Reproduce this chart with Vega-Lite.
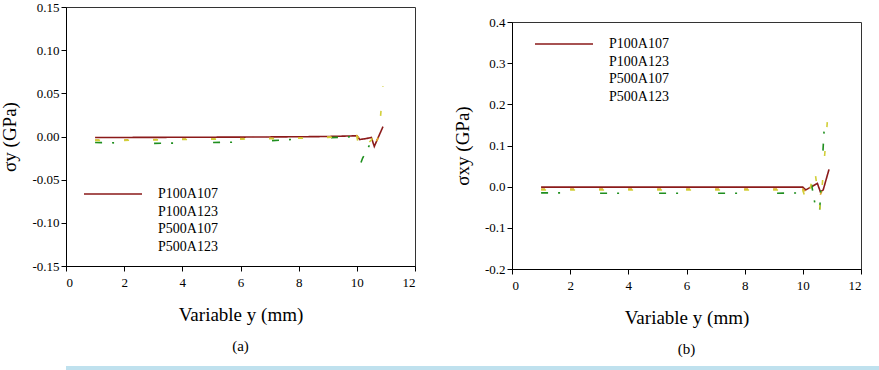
{
  "$schema": "https://vega.github.io/schema/vega-lite/v6.json",
  "padding": {"left": 0, "top": 0, "right": 0, "bottom": 0},
  "background": "white",
  "datasets": {
    "sy": [
      {"series": "P100A107", "pos": 1.0, "stress": -0.0012},
      {"series": "P100A107", "pos": 2.0, "stress": -0.0011},
      {"series": "P100A107", "pos": 3.0, "stress": -0.0010},
      {"series": "P100A107", "pos": 4.0, "stress": -0.0009},
      {"series": "P100A107", "pos": 5.0, "stress": -0.0008},
      {"series": "P100A107", "pos": 6.0, "stress": -0.0007},
      {"series": "P100A107", "pos": 7.0, "stress": -0.0005},
      {"series": "P100A107", "pos": 8.0, "stress": -0.0003},
      {"series": "P100A107", "pos": 9.0, "stress": 0.0},
      {"series": "P100A107", "pos": 10.0, "stress": 0.0008},
      {"series": "P100A107", "pos": 10.1, "stress": -0.0035},
      {"series": "P100A107", "pos": 10.3, "stress": -0.0025},
      {"series": "P100A107", "pos": 10.5, "stress": -0.0012},
      {"series": "P100A107", "pos": 10.6, "stress": -0.0115},
      {"series": "P100A107", "pos": 10.9, "stress": 0.0115},

      {"series": "P100A123", "pos": 1.0, "stress": -0.004},
      {"series": "P100A123", "pos": 2.0, "stress": -0.004},
      {"series": "P100A123", "pos": 3.0, "stress": -0.0035},
      {"series": "P100A123", "pos": 4.0, "stress": -0.003},
      {"series": "P100A123", "pos": 5.0, "stress": -0.003},
      {"series": "P100A123", "pos": 6.0, "stress": -0.0025},
      {"series": "P100A123", "pos": 7.0, "stress": -0.002},
      {"series": "P100A123", "pos": 8.0, "stress": -0.0015},
      {"series": "P100A123", "pos": 9.0, "stress": -0.0005},
      {"series": "P100A123", "pos": 10.0, "stress": 0.001},
      {"series": "P100A123", "pos": 10.1, "stress": -0.003},
      {"series": "P100A123", "pos": 10.5, "stress": -0.002},
      {"series": "P100A123", "pos": 10.6, "stress": -0.010},
      {"series": "P100A123", "pos": 10.9, "stress": 0.008},

      {"series": "P500A107", "pos": 1.0, "stress": -0.007},
      {"series": "P500A107", "pos": 2.0, "stress": -0.0075},
      {"series": "P500A107", "pos": 3.0, "stress": -0.008},
      {"series": "P500A107", "pos": 4.0, "stress": -0.0075},
      {"series": "P500A107", "pos": 5.0, "stress": -0.007},
      {"series": "P500A107", "pos": 6.0, "stress": -0.0065},
      {"series": "P500A107", "pos": 7.0, "stress": -0.005},
      {"series": "P500A107", "pos": 8.0, "stress": -0.003},
      {"series": "P500A107", "pos": 9.0, "stress": -0.0015},
      {"series": "P500A107", "pos": 10.0, "stress": 0.0},
      {"series": "P500A107", "pos": 10.1, "stress": -0.034},
      {"series": "P500A107", "pos": 10.2, "stress": -0.025},
      {"series": "P500A107", "pos": 10.5, "stress": -0.006},
      {"series": "P500A107", "pos": 10.9, "stress": 0.030},

      {"series": "P500A123", "pos": 1.0, "stress": -0.0045},
      {"series": "P500A123", "pos": 2.0, "stress": -0.0045},
      {"series": "P500A123", "pos": 3.0, "stress": -0.004},
      {"series": "P500A123", "pos": 4.0, "stress": -0.0035},
      {"series": "P500A123", "pos": 5.0, "stress": -0.003},
      {"series": "P500A123", "pos": 6.0, "stress": -0.003},
      {"series": "P500A123", "pos": 7.0, "stress": -0.0025},
      {"series": "P500A123", "pos": 8.0, "stress": -0.002},
      {"series": "P500A123", "pos": 9.0, "stress": -0.001},
      {"series": "P500A123", "pos": 10.0, "stress": 0.0},
      {"series": "P500A123", "pos": 10.1, "stress": -0.017},
      {"series": "P500A123", "pos": 10.3, "stress": -0.011},
      {"series": "P500A123", "pos": 10.5, "stress": -0.004},
      {"series": "P500A123", "pos": 10.8, "stress": 0.017},
      {"series": "P500A123", "pos": 10.9, "stress": 0.058}
    ],
    "sxy": [
      {"series": "P100A107", "pos": 1.0, "stress": -0.001},
      {"series": "P100A107", "pos": 2.0, "stress": -0.001},
      {"series": "P100A107", "pos": 3.0, "stress": -0.001},
      {"series": "P100A107", "pos": 4.0, "stress": -0.001},
      {"series": "P100A107", "pos": 5.0, "stress": -0.001},
      {"series": "P100A107", "pos": 6.0, "stress": -0.001},
      {"series": "P100A107", "pos": 7.0, "stress": -0.001},
      {"series": "P100A107", "pos": 8.0, "stress": -0.001},
      {"series": "P100A107", "pos": 9.0, "stress": -0.001},
      {"series": "P100A107", "pos": 10.0, "stress": -0.001},
      {"series": "P100A107", "pos": 10.1, "stress": -0.008},
      {"series": "P100A107", "pos": 10.5, "stress": 0.008},
      {"series": "P100A107", "pos": 10.6, "stress": -0.012},
      {"series": "P100A107", "pos": 10.7, "stress": -0.008},
      {"series": "P100A107", "pos": 10.9, "stress": 0.042},

      {"series": "P100A123", "pos": 1.0, "stress": -0.006},
      {"series": "P100A123", "pos": 2.0, "stress": -0.006},
      {"series": "P100A123", "pos": 3.0, "stress": -0.006},
      {"series": "P100A123", "pos": 4.0, "stress": -0.006},
      {"series": "P100A123", "pos": 5.0, "stress": -0.006},
      {"series": "P100A123", "pos": 6.0, "stress": -0.006},
      {"series": "P100A123", "pos": 7.0, "stress": -0.006},
      {"series": "P100A123", "pos": 8.0, "stress": -0.006},
      {"series": "P100A123", "pos": 9.0, "stress": -0.006},
      {"series": "P100A123", "pos": 10.0, "stress": -0.006},
      {"series": "P100A123", "pos": 10.1, "stress": -0.012},
      {"series": "P100A123", "pos": 10.5, "stress": 0.005},
      {"series": "P100A123", "pos": 10.6, "stress": -0.020},
      {"series": "P100A123", "pos": 10.9, "stress": 0.030},

      {"series": "P500A107", "pos": 1.0, "stress": -0.015},
      {"series": "P500A107", "pos": 2.0, "stress": -0.015},
      {"series": "P500A107", "pos": 3.0, "stress": -0.016},
      {"series": "P500A107", "pos": 4.0, "stress": -0.016},
      {"series": "P500A107", "pos": 5.0, "stress": -0.016},
      {"series": "P500A107", "pos": 6.0, "stress": -0.016},
      {"series": "P500A107", "pos": 7.0, "stress": -0.016},
      {"series": "P500A107", "pos": 8.0, "stress": -0.016},
      {"series": "P500A107", "pos": 9.0, "stress": -0.016},
      {"series": "P500A107", "pos": 10.0, "stress": -0.015},
      {"series": "P500A107", "pos": 10.15, "stress": -0.045},
      {"series": "P500A107", "pos": 10.3, "stress": 0.005},
      {"series": "P500A107", "pos": 10.55, "stress": -0.095},
      {"series": "P500A107", "pos": 10.8, "stress": 0.225},

      {"series": "P500A123", "pos": 1.0, "stress": -0.008},
      {"series": "P500A123", "pos": 2.0, "stress": -0.008},
      {"series": "P500A123", "pos": 3.0, "stress": -0.008},
      {"series": "P500A123", "pos": 4.0, "stress": -0.008},
      {"series": "P500A123", "pos": 5.0, "stress": -0.008},
      {"series": "P500A123", "pos": 6.0, "stress": -0.008},
      {"series": "P500A123", "pos": 7.0, "stress": -0.008},
      {"series": "P500A123", "pos": 8.0, "stress": -0.008},
      {"series": "P500A123", "pos": 9.0, "stress": -0.008},
      {"series": "P500A123", "pos": 10.0, "stress": -0.009},
      {"series": "P500A123", "pos": 10.15, "stress": -0.040},
      {"series": "P500A123", "pos": 10.4, "stress": 0.045},
      {"series": "P500A123", "pos": 10.6, "stress": -0.055},
      {"series": "P500A123", "pos": 10.8, "stress": 0.120},
      {"series": "P500A123", "pos": 10.9, "stress": 0.210}
    ],
    "none": []
  },
  "config": {
    "font": "Liberation Serif",
    "style": {
      "guide-label": {"font": "Liberation Serif", "fill": "black"},
      "guide-title": {"font": "Liberation Serif", "fill": "black"}
    },
    "view": {"stroke": "#333333", "strokeWidth": 1},
    "axis": {
      "grid": false,
      "domainColor": "black",
      "tickColor": "black",
      "tickSize": 5,
      "labelColor": "black",
      "labelFont": "Liberation Serif",
      "labelFontSize": 13,
      "titleColor": "black",
      "titleFont": "Liberation Serif",
      "titleFontSize": 19,
      "titleFontWeight": "normal"
    },
    "legend": {
      "orient": "none",
      "symbolType": "M-5.8,0H5.8",
      "symbolSize": 100,
      "symbolStrokeWidth": 1.6,
      "labelFont": "Liberation Serif",
      "labelFontSize": 14,
      "labelColor": "black",
      "labelOffset": 38,
      "rowPadding": 3.5
    },
    "title": {
      "font": "Liberation Serif",
      "fontSize": 15,
      "fontWeight": "normal",
      "color": "black"
    }
  },
  "spacing": 8,
  "align": "none",
  "vconcat": [
    {
      "spacing": 36,
      "resolve": {
        "scale": {"color": "independent", "strokeDash": "independent", "x": "independent", "y": "independent"},
        "legend": {"color": "independent", "strokeDash": "independent"}
      },
      "hconcat": [
        {
          "width": 349,
          "height": 259,
          "data": {"name": "sy"},
          "title": {"text": "(a)", "orient": "bottom", "offset": 15, "font": "Liberation Serif", "fontSize": 15, "fontWeight": "normal"},
          "mark": {"type": "line", "strokeWidth": 1.6},
          "encoding": {
            "x": {
              "field": "pos", "type": "quantitative",
              "scale": {"domain": [0, 12], "nice": false},
              "axis": {
                "values": [0, 2, 4, 6, 8, 10, 12], "title": "Variable y (mm)",
                "titlePadding": 16, "labelPadding": 5,
                "labelFont": "Liberation Serif", "labelFontSize": 13, "labelColor": "black",
                "titleFont": "Liberation Serif", "titleFontSize": 19, "titleFontWeight": "normal", "titleColor": "black",
                "tickColor": "black", "domainColor": "black"
              }
            },
            "y": {
              "field": "stress", "type": "quantitative",
              "scale": {"domain": [-0.15, 0.15], "nice": false, "zero": false},
              "axis": {
                "values": [-0.15, -0.1, -0.05, 0, 0.05, 0.1, 0.15],
                "labelExpr": "replace(format(datum.value, '.2f'), '\u2212', '-')",
                "title": "σy (GPa)",
                "titlePadding": 12,
                "labelFont": "Liberation Serif", "labelFontSize": 13, "labelColor": "black",
                "titleFont": "Liberation Serif", "titleFontSize": 19, "titleFontWeight": "normal", "titleColor": "black",
                "tickColor": "black", "domainColor": "black"
              }
            },
            "color": {
              "field": "series", "type": "nominal",
              "scale": {
                "domain": ["P100A107", "P100A123", "P500A107", "P500A123"],
                "range": ["#8B1A1A", "#E0A52A", "#1F8F1F", "#D2CF3A"]
              },
              "legend": {
                "title": null,
                "legendX": 40,
                "legendY": 180,
                "encode": {"symbols": {"update": {"opacity": {"signal": "datum.value === 'P100A107' ? 1 : 0"}}}}
              }
            },
            "strokeDash": {
              "field": "series", "type": "nominal",
              "scale": {
                "domain": ["P100A107", "P100A123", "P500A107", "P500A123"],
                "range": [[1, 0], [4, 25], [7, 10, 2, 40], [5, 24]]
              },
              "legend": null
            }
          }
        },
        {
          "spacing": 7,
          "vconcat": [
            {
              "width": 349,
              "height": 1,
              "data": {"name": "none"},
              "view": {"stroke": null},
              "mark": {"type": "point", "opacity": 0},
              "encoding": {}
            },
            {
              "width": 349,
              "height": 247,
              "data": {"name": "sxy"},
              "title": {"text": "(b)", "orient": "bottom", "offset": 15, "font": "Liberation Serif", "fontSize": 15, "fontWeight": "normal"},
              "mark": {"type": "line", "strokeWidth": 1.6},
              "encoding": {
                "x": {
                  "field": "pos", "type": "quantitative",
                  "scale": {"domain": [0, 12], "nice": false},
                  "axis": {
                    "values": [0, 2, 4, 6, 8, 10, 12], "title": "Variable y (mm)",
                    "titlePadding": 16, "labelPadding": 5,
                    "labelFont": "Liberation Serif", "labelFontSize": 13, "labelColor": "black",
                    "titleFont": "Liberation Serif", "titleFontSize": 19, "titleFontWeight": "normal", "titleColor": "black",
                    "tickColor": "black", "domainColor": "black"
                  }
                },
                "y": {
                  "field": "stress", "type": "quantitative",
                  "scale": {"domain": [-0.2, 0.4], "nice": false, "zero": false},
                  "axis": {
                    "values": [-0.2, -0.1, 0, 0.1, 0.2, 0.3, 0.4],
                    "labelExpr": "replace(format(datum.value, '.1f'), '\u2212', '-')",
                    "title": "σxy (GPa)",
                    "titlePadding": 12,
                    "labelFont": "Liberation Serif", "labelFontSize": 13, "labelColor": "black",
                    "titleFont": "Liberation Serif", "titleFontSize": 19, "titleFontWeight": "normal", "titleColor": "black",
                    "tickColor": "black", "domainColor": "black"
                  }
                },
                "color": {
                  "field": "series", "type": "nominal",
                  "scale": {
                    "domain": ["P100A107", "P100A123", "P500A107", "P500A123"],
                    "range": ["#8B1A1A", "#E0A52A", "#1F8F1F", "#D2CF3A"]
                  },
                  "legend": {
                    "title": null,
                    "legendX": 45,
                    "legendY": 30,
                    "encode": {"symbols": {"update": {"opacity": {"signal": "datum.value === 'P100A107' ? 1 : 0"}}}}
                  }
                },
                "strokeDash": {
                  "field": "series", "type": "nominal",
                  "scale": {
                    "domain": ["P100A107", "P100A123", "P500A107", "P500A123"],
                    "range": [[1, 0], [4, 25], [7, 10, 2, 40], [5, 24]]
                  },
                  "legend": null
                }
              }
            }
          ]
        }
      ]
    },
    {
      "width": 813,
      "height": 6,
      "data": {"name": "none"},
      "view": {"stroke": null, "fill": "#BFE1EE"},
      "mark": {"type": "point", "opacity": 0},
      "encoding": {}
    }
  ]
}
